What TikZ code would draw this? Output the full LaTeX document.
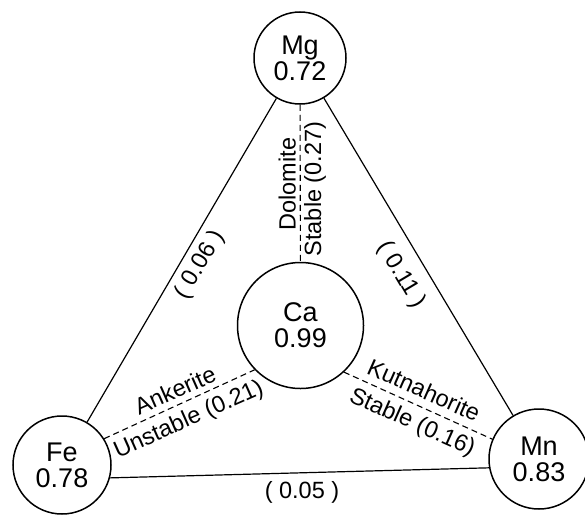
\documentclass[tikz,border=0pt]{standalone}
\usepackage{fontspec}
\setmainfont{Liberation Sans}
\begin{document}
\begin{tikzpicture}[x=1pt,y=-1pt,
  ion/.style={circle,draw,line width=1.5pt,inner sep=0pt,align=center,
    font=\fontsize{27}{26}\selectfont},
  bond/.style={line width=1.2pt},
  link/.style={line width=1.1pt,dash pattern=on 6pt off 4pt},
  lbl/.style={font=\fontsize{23.5}{24}\selectfont,inner sep=0pt}]
\useasboundingbox (0,0) rectangle (585,514);

% cations
\node[ion,minimum size=92pt]  (Mg) at (300,58)    {Mg\\0.72};
\node[ion,minimum size=126pt] (Ca) at (300.5,325.5) {Ca\\0.99};
\node[ion,minimum size=98pt]  (Fe) at (62,465)    {Fe\\0.78};
\node[ion,minimum size=100pt] (Mn) at (539,459)   {Mn\\0.83};

% solid outer triangle
\draw[bond] (Mg) -- (Fe);
\draw[bond] (Mg) -- (Mn);
\draw[bond] (Fe.-15) -- (Mn.190);

% dashed links to Ca
\draw[link] (Mg) -- (Ca);
\draw[link] (Fe.32) -- (Ca.224);
\draw[link] (Ca.313) -- (Mn.157);

% labels on the outer edges
\node[lbl,rotate=59.7]  (l06) at (200,265) {( 0.06 )};
\node[lbl,rotate=-59.2] (l11) at (401,275) {( 0.11 )};
\node[lbl]              (l05) at (302,492) {( 0.05 )};

% labels on the dashed links
\node[lbl,rotate=90,anchor=south] (dol) at (296,184) {Dolomite};
\node[lbl,rotate=90,anchor=north] (dst) at (304,189) {Stable (0.27)};
\node[lbl,rotate=24]  (ank) at (175,390) {Ankerite};
\node[lbl,rotate=24]  (ans) at (189,420) {Unstable (0.21)};
\node[lbl,rotate=-24] (kut) at (424,390) {Kutnahorite};
\node[lbl,rotate=-24] (kst) at (412,423) {Stable (0.16)};
\end{tikzpicture}
\end{document}
